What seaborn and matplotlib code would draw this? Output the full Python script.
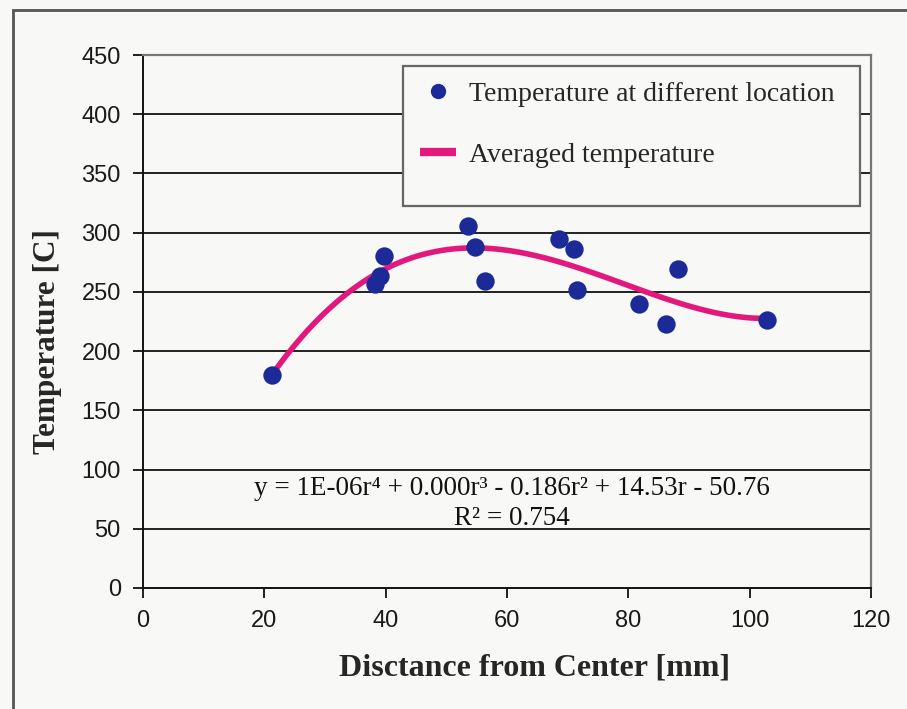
import matplotlib
matplotlib.use("Agg")
import matplotlib.pyplot as plt
import seaborn as sns
import pandas as pd
from matplotlib.lines import Line2D
from matplotlib.patches import Rectangle

# Measured temperatures at radial positions
distance_mm = [21.2, 38.3, 39.0, 39.8, 53.5, 54.8, 56.4, 68.5, 71.0, 71.5, 81.7, 86.2, 88.2, 102.8]
temperature_c = [180, 257, 263, 280, 306, 288, 259, 295, 286, 252, 240, 223, 269, 226]

x_ticks = [0, 20, 40, 60, 80, 100, 120]
y_ticks = [0, 50, 100, 150, 200, 250, 300, 350, 400, 450]

fit_equation = "y = 1E-06r\u2074 + 0.000r\u00b3 - 0.186r\u00b2 + 14.53r - 50.76"
fit_r2 = "R\u00b2 = 0.754"

df = pd.DataFrame({"r": distance_mm, "T": temperature_c})

sns.set_theme(style="white")
plt.rcParams["font.family"] = ["Liberation Sans", "DejaVu Sans"]

BG = "#f8f8f6"
DOT = "#1c2a98"
CURVE = "#e2187c"
serif = ["Liberation Serif", "DejaVu Serif"]

fig = plt.figure(figsize=(9.07, 7.09), dpi=100, facecolor=BG)
ax = fig.add_axes([143 / 907, 1 - 588 / 709, 728 / 907, 533 / 709])
ax.set_facecolor(BG)

# 4th order polynomial trendline
sns.regplot(data=df, x="r", y="T", order=4, ci=None, scatter=False,
            line_kws=dict(color=CURVE, lw=4.0, solid_capstyle="round", zorder=3), ax=ax)
sns.scatterplot(data=df, x="r", y="T", s=175, color=DOT, edgecolor=DOT, linewidth=0, zorder=4, ax=ax)

ax.set_xlim(0, 120)
ax.set_ylim(0, 450)
ax.set_xticks(x_ticks)
ax.set_yticks(y_ticks)
ax.tick_params(axis="both", which="major", labelsize=17, direction="out", length=7, width=1.3,
               color="#111111", labelcolor="#1a1a1a", left=True, bottom=True, pad=9)

for v in y_ticks[1:]:
    ax.axhline(v, color="#222222", lw=1.4, zorder=1)

for side in ("left", "bottom"):
    ax.spines[side].set_color("#111111")
    ax.spines[side].set_linewidth(1.4)
for side in ("right", "top"):
    ax.spines[side].set_color("#777777")
    ax.spines[side].set_linewidth(1.6)

ax.set_xlabel("Disctance from Center [mm]", fontsize=23, fontweight="bold", family=serif)
ax.set_ylabel("Temperature [C]", fontsize=22.5, fontweight="bold", family=serif)
ax.xaxis.set_label_coords((535 - 143) / 728, -(668 - 588) / 533)
ax.yaxis.set_label_coords(-(143 - 48) / 728, (588 - 341) / 533)
ax.xaxis.label.set_va("center")
ax.yaxis.label.set_va("center")

# Trendline equation
ax.text(60.8, 84, fit_equation, ha="center", va="center", fontsize=19.5, family=serif, color="#111111")
ax.text(60.8, 59, fit_r2, ha="center", va="center", fontsize=19.5, family=serif, color="#111111")

# Legend box
box = Rectangle(((403 - 143) / 728, (588 - 206) / 533), 457 / 728, 140 / 533,
                transform=ax.transAxes, facecolor=BG, edgecolor="#666666", lw=1.6, zorder=5)
ax.add_patch(box)
handles = [
    Line2D([], [], marker="o", ls="none", markersize=11, color=DOT, markeredgewidth=0),
    Line2D([], [], ls="-", lw=6, color=CURVE, solid_capstyle="butt"),
]
leg = ax.legend(handles, ["Temperature at different location", "Averaged temperature"],
                loc="upper left", bbox_to_anchor=((409 - 143) / 728, (588 - 70) / 533),
                frameon=False, prop=dict(family=serif, size=20), handlelength=1.3,
                handletextpad=0.45, labelspacing=1.3, borderaxespad=0)
leg.set_zorder(6)

# Outer chart frame
fig.add_artist(Rectangle((13 / 907, -0.05), 1.0, 1 - 10 / 709 + 0.05, transform=fig.transFigure,
                         fill=False, edgecolor="#555555", lw=2.0))

fig.savefig("out.png", dpi=100, facecolor=BG)
